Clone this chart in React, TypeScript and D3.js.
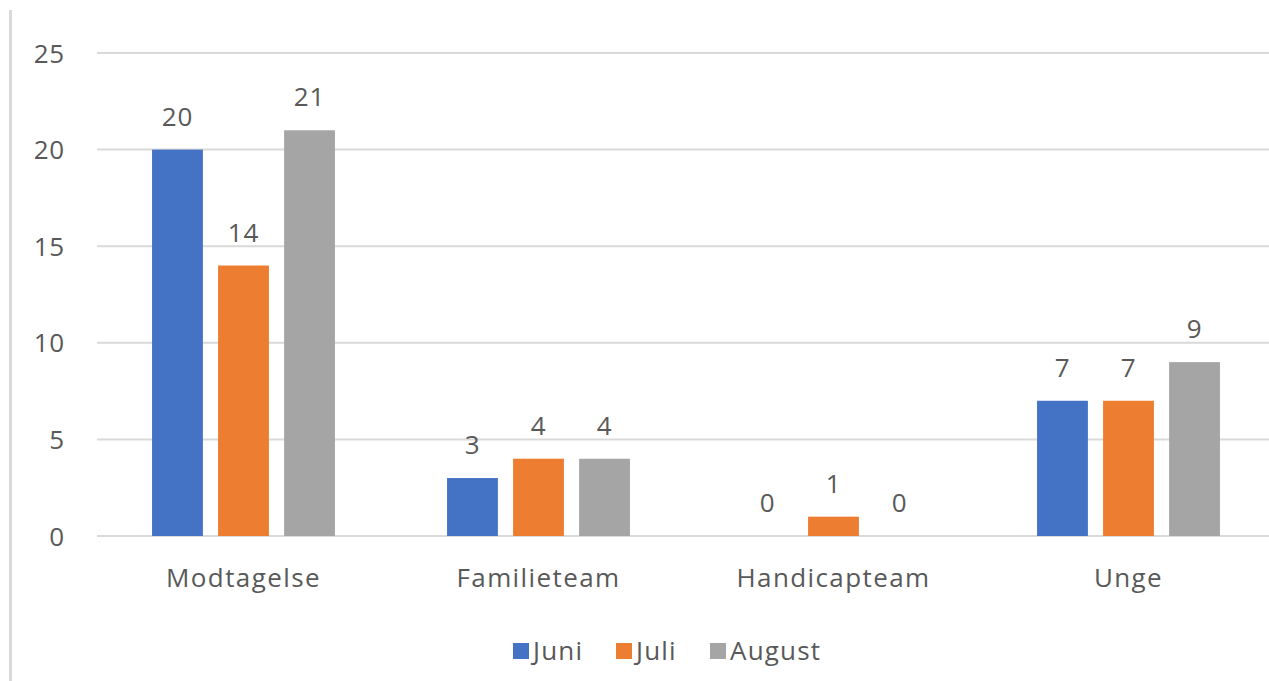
import React from "react";
import * as d3 from "d3";

const categories = ["Modtagelse", "Familieteam", "Handicapteam", "Unge"];
const seriesNames = ["Juni", "Juli", "August"];
const juni = [20, 3, 0, 7];
const juli = [14, 4, 1, 7];
const august = [21, 4, 0, 9];
const yTicks = [0, 5, 10, 15, 20, 25];
const colors = ["#4472C4", "#ED7D31", "#A5A5A5"];

const W = 1269;
const H = 681;
const FONT = "'Open Sans', sans-serif";
const TEXT = "#595959";

export default function App() {
  const seriesValues = [juni, juli, august];
  const x0 = d3
    .scaleBand<string>()
    .domain(categories)
    .range([96, 1276])
    .paddingInner(0.38)
    .paddingOuter(0.19);
  const x1 = d3
    .scaleBand<string>()
    .domain(seriesNames)
    .range([0, x0.bandwidth()])
    .paddingInner(0.23)
    .paddingOuter(0);
  const y = d3.scaleLinear().domain([0, 25]).range([536, 53]);

  const legendX = [513, 616, 710];

  return (
    <svg
      width={W}
      height={H}
      style={{ position: "fixed", left: 0, top: 0, display: "block", background: "#fff" }}
      fontFamily={FONT}
    >
      <rect x={0} y={0} width={W} height={H} fill="#fff" />
      <rect x={9} y={10} width={3} height={H - 10} fill="#d9d9d9" />
      {yTicks.map((t) => (
        <g key={t}>
          <line x1={97} x2={W} y1={y(t)} y2={y(t)} stroke="#d9d9d9" strokeWidth={2} />
          <text
            x={65}
            y={y(t) + 9.5}
            textAnchor="end"
            fontSize={26}
            fill={TEXT}
            letterSpacing={0.8}
          >
            {t}
          </text>
        </g>
      ))}
      {categories.map((c, ci) => (
        <g key={c} transform={`translate(${x0(c)},0)`}>
          {seriesNames.map((s, si) => {
            const v = seriesValues[si][ci];
            const bx = x1(s) as number;
            return (
              <g key={s}>
                <rect
                  x={bx}
                  y={y(v)}
                  width={x1.bandwidth()}
                  height={y(0) - y(v)}
                  fill={colors[si]}
                />
                <text
                  x={bx + x1.bandwidth() / 2}
                  y={y(v) - 24}
                  textAnchor="middle"
                  fontSize={26}
                  fill={TEXT}
                  letterSpacing={0.8}
                >
                  {v}
                </text>
              </g>
            );
          })}
          <text
            x={x0.bandwidth() / 2}
            y={587}
            textAnchor="middle"
            fontSize={26}
            fill={TEXT}
            letterSpacing={1.4}
          >
            {c}
          </text>
        </g>
      ))}
      {seriesNames.map((s, si) => (
        <g key={s} transform={`translate(${legendX[si]},0)`}>
          <rect x={0} y={643} width={16} height={16} fill={colors[si]} />
          <text x={20} y={660} fontSize={26} fill={TEXT} letterSpacing={1.2}>
            {s}
          </text>
        </g>
      ))}
    </svg>
  );
}
